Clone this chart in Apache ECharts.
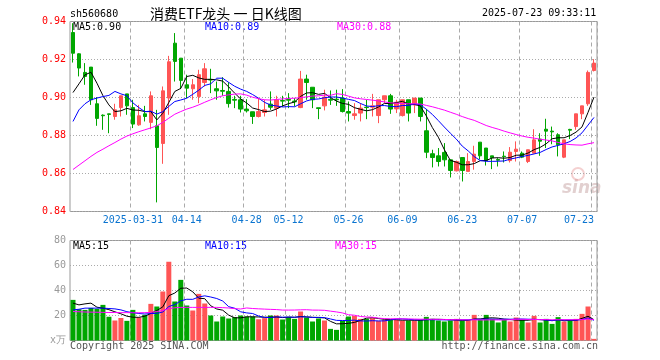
<!DOCTYPE html>
<html><head><meta charset="utf-8">
<script src="https://cdn.jsdelivr.net/npm/echarts@6/dist/echarts.min.js"></script>
<style>html,body{margin:0;padding:0;background:#fff}#c{width:660px;height:360px}</style>
</head><body><div id="c"></div>
<script>
const dates = ['2025-03-17','2025-03-18','2025-03-19','2025-03-20','2025-03-21','2025-03-24','2025-03-25','2025-03-26','2025-03-27','2025-03-28',
'2025-03-31','2025-04-01','2025-04-02','2025-04-03','2025-04-07','2025-04-08','2025-04-09','2025-04-10','2025-04-11','2025-04-14',
'2025-04-15','2025-04-16','2025-04-17','2025-04-18','2025-04-21','2025-04-22','2025-04-23','2025-04-24','2025-04-25','2025-04-28',
'2025-04-29','2025-04-30','2025-05-06','2025-05-07','2025-05-08','2025-05-09','2025-05-12','2025-05-13','2025-05-14','2025-05-15',
'2025-05-16','2025-05-19','2025-05-20','2025-05-21','2025-05-22','2025-05-23','2025-05-26','2025-05-27','2025-05-28','2025-05-29',
'2025-05-30','2025-06-03','2025-06-04','2025-06-05','2025-06-06','2025-06-09','2025-06-10','2025-06-11','2025-06-12','2025-06-13',
'2025-06-16','2025-06-17','2025-06-18','2025-06-19','2025-06-20','2025-06-23','2025-06-24','2025-06-25','2025-06-26','2025-06-27',
'2025-06-30','2025-07-01','2025-07-02','2025-07-03','2025-07-04','2025-07-07','2025-07-08','2025-07-09','2025-07-10','2025-07-11',
'2025-07-14','2025-07-15','2025-07-16','2025-07-17','2025-07-18','2025-07-21','2025-07-22','2025-07-23'];

const tickDates = ['2025-03-31','2025-04-14','2025-04-28','2025-05-12','2025-05-26','2025-06-09','2025-06-23','2025-07-07','2025-07-23'];

const openP = [0.9342,0.9230,0.9132,0.9160,0.8967,0.8907,0.8914,0.8900,0.8947,0.9019,
0.8947,0.8856,0.8914,0.8869,0.8851,0.8758,0.8997,0.9286,0.9207,0.9067,
0.9046,0.9005,0.9079,0.9095,0.9046,0.9037,0.9032,0.8990,0.8988,0.8939,
0.8925,0.8900,0.8921,0.8965,0.8944,0.8984,0.8990,0.8981,0.8947,0.9097,
0.9054,0.8946,0.8956,0.8990,0.8991,0.8997,0.8926,0.8905,0.8918,0.8949,
0.8949,0.8905,0.8988,0.9009,0.8940,0.8905,0.8988,0.8961,0.8997,0.8825,
0.8704,0.8693,0.8711,0.8672,0.8614,0.8684,0.8611,0.8663,0.8765,0.8734,
0.8693,0.8674,0.8691,0.8668,0.8716,0.8707,0.8663,0.8707,0.8781,0.8833,
0.8823,0.8804,0.8686,0.8832,0.8847,0.8914,0.8967,0.9142];
const closeP = [0.9233,0.9155,0.9111,0.8988,0.8890,0.8904,0.8911,0.8935,0.9009,0.8956,
0.8860,0.8904,0.8900,0.9009,0.8737,0.9035,0.9188,0.9190,0.9090,0.9049,
0.9067,0.9120,0.9151,0.9092,0.9035,0.9033,0.8968,0.8986,0.8939,0.8930,
0.8900,0.8926,0.8935,0.8949,0.8988,0.8981,0.8986,0.8977,0.9097,0.9079,
0.8988,0.8942,0.9002,0.8986,0.8988,0.8926,0.8918,0.8914,0.8944,0.8947,
0.8956,0.8988,0.9009,0.8939,0.8975,0.8988,0.8918,0.8997,0.8900,0.8712,
0.8684,0.8663,0.8672,0.8616,0.8663,0.8616,0.8663,0.8702,0.8693,0.8668,
0.8683,0.8670,0.8688,0.8712,0.8728,0.8686,0.8725,0.8777,0.8770,0.8823,
0.8819,0.8751,0.8777,0.8828,0.8914,0.8956,0.9132,0.9181];
const lowP = [0.9184,0.9111,0.9067,0.8961,0.8851,0.8830,0.8812,0.8883,0.8900,0.8909,
0.8839,0.8851,0.8874,0.8833,0.8448,0.8651,0.8909,0.9084,0.9044,0.8997,
0.8988,0.8970,0.9058,0.9023,0.8988,0.9009,0.8947,0.8944,0.8921,0.8921,
0.8861,0.8895,0.8900,0.8935,0.8900,0.8951,0.8944,0.8953,0.8944,0.8988,
0.8944,0.8886,0.8932,0.8961,0.8956,0.8921,0.8874,0.8883,0.8874,0.8886,
0.8900,0.8865,0.8970,0.8914,0.8918,0.8900,0.8874,0.8918,0.8874,0.8681,
0.8632,0.8637,0.8637,0.8579,0.8611,0.8558,0.8611,0.8620,0.8675,0.8642,
0.8623,0.8637,0.8658,0.8658,0.8663,0.8681,0.8655,0.8707,0.8693,0.8734,
0.8754,0.8690,0.8681,0.8781,0.8830,0.8886,0.8956,0.9137];
const highP = [0.9391,0.9233,0.9181,0.9160,0.9002,0.8911,0.8914,0.8967,0.9009,0.9019,
0.8988,0.8961,0.8956,0.9032,0.8935,0.9058,0.9219,0.9339,0.9207,0.9120,
0.9097,0.9146,0.9181,0.9151,0.9084,0.9107,0.9081,0.9009,0.9009,0.8991,
0.8925,0.8997,0.8988,0.9032,0.9009,0.9009,0.9023,0.8997,0.9140,0.9120,
0.9054,0.8946,0.9041,0.9037,0.9041,0.9044,0.8979,0.8970,0.8970,0.8988,
0.9019,0.8988,0.9009,0.9019,0.8988,0.8988,0.8988,0.8997,0.8997,0.8939,
0.8725,0.8734,0.8760,0.8672,0.8668,0.8684,0.8707,0.8746,0.8765,0.8734,
0.8693,0.8681,0.8716,0.8739,0.8769,0.8716,0.8725,0.8833,0.8812,0.8888,
0.8847,0.8812,0.8777,0.8835,0.8914,0.8956,0.9142,0.9202];

// volume in 万
const volumes = [32.5,25,24.5,26,25.3,28.5,19,16,18,15.7,
24.5,18.4,20.5,29.3,27.2,39.2,63,31.2,48.5,28,
24,37.3,29.6,20,15.2,19.2,17.6,18.7,20,19.2,
19.2,17,17.9,20,20,16.8,18.7,17.3,23.2,18.4,
15.2,17.6,16,9.3,8.5,15.7,19.2,19.7,17.3,17.3,
17.9,15.7,16.5,16.5,16.5,16,16,16,16.5,18.9,
17.3,16,15.2,16,17.3,16,16,20.5,16.5,20.5,
17.3,14.4,16.5,15.2,18.4,16.5,14.4,19.7,14.4,17.3,
13.3,18.7,15.2,16,17.3,21.3,27.2,1.3];

// legend texts of the volume panel, as printed on the chart
const volMaLabels = ['MA5:15', 'MA10:15', 'MA30:15'];

// moving-average values for days whose window starts before the visible range
const ma5Lead = [0.9026,0.9072,0.9119,0.9133];
const ma10Lead = [0.8874,0.8935,0.8967,0.8988,0.8997,0.9005,0.9011,0.9032,0.9019];
const ma30Lead = [0.8621,0.8644,0.8667,0.8690,0.8711,0.8728,0.8746,0.8763,0.8781,0.8797,
0.8809,0.8820,0.8830,0.8840,0.8851,0.8869,0.8891,0.8912,0.8926,0.8939,
0.8949,0.8961,0.8975,0.8988,0.9000,0.9009,0.9014,0.9018,0.9019];
const vma5Lead = [29.9,28.5,29.3,29.9];
const vma10Lead = [24.5,25,25.9,25.9,25.9,25.9,25.6,25.3,24.5];
const vma30Lead = [23.2,23,22.8,22.7,22.6,22.5,22.4,22.4,22.3,22.3,
22.2,22.2,22.3,22.5,23.2,24,25.5,26.2,26.5,26.5,
26.5,26.5,26.5,26.5,26.5,26.3,26,25.5,25.2];

function movingAvg(src, n, lead){
  return src.map((_, i) => {
    if (i < n - 1) return lead[i];
    let s = 0; for (let j = i - n + 1; j <= i; j++) s += src[j];
    return s / n;
  });
}
const ma5 = movingAvg(closeP, 5, ma5Lead), ma10 = movingAvg(closeP, 10, ma10Lead), ma30 = movingAvg(closeP, 30, ma30Lead);
const vma5 = movingAvg(volumes, 5, vma5Lead), vma10 = movingAvg(volumes, 10, vma10Lead), vma30 = movingAvg(volumes, 30, vma30Lead);

const UP = '#FF5555', DOWN = '#00A600';
const MONO = '"DejaVu Sans Mono", "Liberation Mono", monospace';
const last = a => a[a.length - 1];

const kData = dates.map((d, i) => [openP[i], closeP[i], lowP[i], highP[i]]);
const volData = volumes.map((v, i) => ({ value: v, itemStyle: { color: closeP[i] > openP[i] ? UP : DOWN } }));

const isTick = (idx, val) => tickDates.indexOf(val) >= 0;

const chart = echarts.init(document.getElementById('c'), null, { renderer: 'canvas' });
const L = 70, W = 527;
const txt = (x, y, s, color, extra) => Object.assign({ type: 'text', left: x, top: y, style: { text: s, fill: color, font: '10px ' + MONO } }, extra || {});

chart.setOption({
  animation: false,
  backgroundColor: '#fff',
  grid: [
    { left: L, top: 21.5, width: W, height: 190, show: true, borderColor: '#999', borderWidth: 1, backgroundColor: 'transparent' },
    { left: L, top: 240.5, width: W, height: 100, show: true, borderColor: '#999', borderWidth: 1, backgroundColor: 'transparent' }
  ],
  xAxis: [
    { type: 'category', gridIndex: 0, data: dates, boundaryGap: true,
      axisLine: { show: false }, axisTick: { show: false },
      axisLabel: { interval: isTick, color: '#0A74D0', fontFamily: MONO, fontSize: 10, margin: 4, alignMaxLabel: 'right',
        formatter: v => v === tickDates[0] ? v : v.slice(5) },
      splitLine: { show: true, interval: isTick, lineStyle: { color: '#aaa', type: [4, 3], width: 1 } } },
    { type: 'category', gridIndex: 1, data: dates, boundaryGap: true,
      axisLine: { show: false }, axisTick: { show: false }, axisLabel: { show: false },
      splitLine: { show: true, interval: isTick, lineStyle: { color: '#aaa', type: [4, 3], width: 1 } } }
  ],
  yAxis: [
    { type: 'value', gridIndex: 0, min: 0.84, max: 0.94, interval: 0.02,
      axisLine: { show: false }, axisTick: { show: false },
      axisLabel: { color: '#FF0000', fontFamily: MONO, fontSize: 10, margin: 4, formatter: v => v.toFixed(2) },
      splitLine: { show: true, lineStyle: { color: '#aaa', type: [1, 2], width: 1 } } },
    { type: 'value', gridIndex: 1, min: 0, max: 80, interval: 20,
      axisLine: { show: false }, axisTick: { show: false },
      axisLabel: { color: '#999', fontFamily: MONO, fontSize: 10, margin: 4, formatter: v => v === 0 ? 'x万' : String(v) },
      splitLine: { show: true, lineStyle: { color: '#aaa', type: [1, 2], width: 1 } } }
  ],
  series: [
    { type: 'candlestick', xAxisIndex: 0, yAxisIndex: 0, data: kData, barWidth: 4,
      itemStyle: { color: UP, color0: DOWN, borderColor: UP, borderColor0: DOWN, borderWidth: 1 } },
    { type: 'line', xAxisIndex: 0, yAxisIndex: 0, data: ma5, symbol: 'none', lineStyle: { color: '#000', width: 1 } },
    { type: 'line', xAxisIndex: 0, yAxisIndex: 0, data: ma10, symbol: 'none', lineStyle: { color: '#0000FF', width: 1 } },
    { type: 'line', xAxisIndex: 0, yAxisIndex: 0, data: ma30, symbol: 'none', lineStyle: { color: '#FF00FF', width: 1 } },
    { type: 'bar', xAxisIndex: 1, yAxisIndex: 1, data: volData, barWidth: 5 },
    { type: 'line', xAxisIndex: 1, yAxisIndex: 1, data: vma5, symbol: 'none', lineStyle: { color: '#000', width: 1 } },
    { type: 'line', xAxisIndex: 1, yAxisIndex: 1, data: vma10, symbol: 'none', lineStyle: { color: '#0000FF', width: 1 } },
    { type: 'line', xAxisIndex: 1, yAxisIndex: 1, data: vma30, symbol: 'none', lineStyle: { color: '#FF00FF', width: 1 } }
  ],
  graphic: [
    txt(70, 9, 'sh560680', '#000'),
    { type: 'text', left: 150, top: 7, style: { text: '消费ETF龙头 一 日K线图', fill: '#000', font: '14px "Noto Sans CJK SC", sans-serif' } },
    txt(482, 8, '2025-07-23 09:33:11', '#000'),
    txt(73, 22, 'MA5:' + last(ma5).toFixed(2), '#000'),
    txt(205, 22, 'MA10:' + last(ma10).toFixed(2), '#0000FF'),
    txt(337, 22, 'MA30:' + last(ma30).toFixed(2), '#FF00FF'),
    txt(73, 241, volMaLabels[0], '#000'),
    txt(205, 241, volMaLabels[1], '#0000FF'),
    txt(335, 241, volMaLabels[2], '#FF00FF'),
    txt(70, 341, 'Copyright 2025 SINA.COM', '#555'),
    { type: 'text', right: 62, top: 341, style: { text: 'http://finance.sina.com.cn', fill: '#555', font: '10px ' + MONO } },
    { type: 'text', left: 562, top: 180, style: { text: 'sina', fill: 'rgba(190,150,150,0.45)', font: 'italic bold 17px "DejaVu Sans", sans-serif' } },
    { type: 'circle', shape: { cx: 578, cy: 174, r: 6 }, style: { fill: 'none', stroke: 'rgba(230,150,150,0.45)', lineWidth: 2 } }
  ]
});
</script></body></html>
